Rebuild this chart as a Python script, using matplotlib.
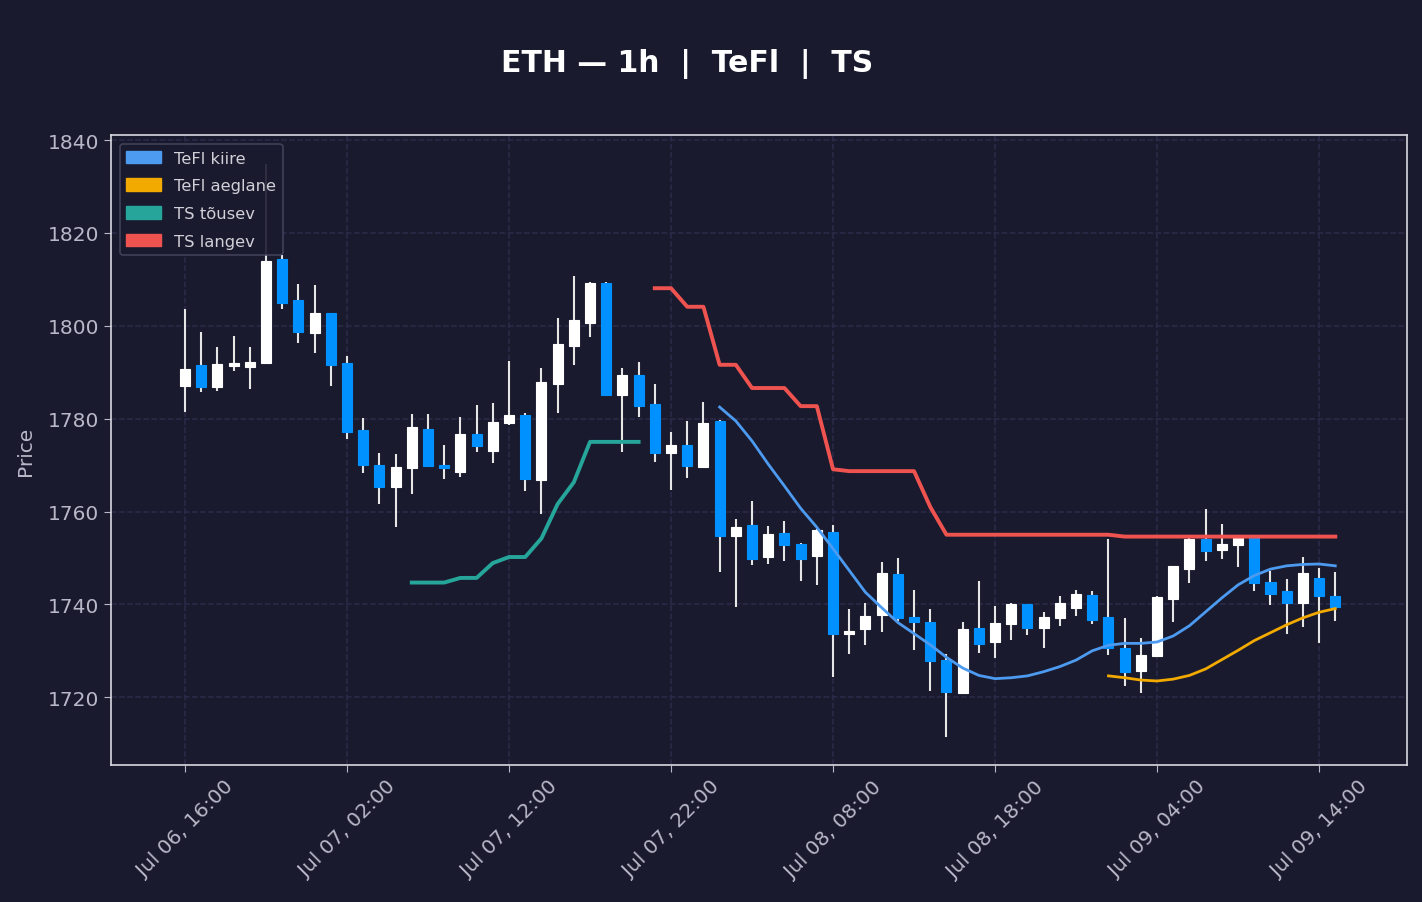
"""
Hourly ETH candles with TeFl moving averages and TS (trailing stop) lines.
Writes out.png.
"""

from datetime import datetime, timedelta

import matplotlib
matplotlib.use("Agg")
import matplotlib.dates as mdates
import matplotlib.pyplot as plt
import numpy as np
from matplotlib.patches import Patch

# ── Data ──────────────────────────────────────────────────────────────────────

START = datetime(2023, 7, 6, 16, 0)

opens = [1787.0, 1791.6, 1786.9, 1791.4, 1791.2, 1792.0, 1814.4, 1805.5, 1798.5, 1802.7,
         1792.0, 1777.5, 1770.1, 1765.2, 1769.3, 1777.8, 1770.1, 1768.6, 1776.8, 1773.1,
         1779.1, 1780.8, 1766.8, 1787.5, 1795.7, 1800.7, 1809.3, 1785.1, 1789.3, 1783.1,
         1772.5, 1774.4, 1769.6, 1779.4, 1754.8, 1757.0, 1750.3, 1755.3, 1752.9, 1750.4,
         1755.5, 1733.7, 1734.8, 1737.7, 1746.6, 1737.2, 1736.1, 1728.1, 1721.0, 1735.0,
         1731.8, 1735.7, 1740.0, 1735.0, 1737.0, 1739.3, 1742.1, 1737.2, 1730.7, 1725.7,
         1728.9, 1741.1, 1747.7, 1754.0, 1751.8, 1752.8, 1754.6, 1744.9, 1742.8, 1740.4,
         1745.6, 1741.7]
highs = [1803.6, 1798.6, 1795.4, 1797.8, 1795.4, 1834.8, 1815.2, 1809.0, 1808.8, 1802.8,
         1793.4, 1780.1, 1772.7, 1772.3, 1781.0, 1781.0, 1774.3, 1780.3, 1782.9, 1783.3,
         1792.4, 1781.2, 1790.9, 1801.7, 1810.8, 1809.4, 1809.4, 1790.9, 1792.1, 1787.4,
         1777.2, 1779.5, 1783.5, 1779.7, 1758.4, 1762.2, 1756.8, 1757.9, 1753.2, 1756.2,
         1757.1, 1739.0, 1740.4, 1749.2, 1749.9, 1743.1, 1739.0, 1729.3, 1736.3, 1745.0,
         1739.6, 1740.3, 1740.1, 1738.3, 1741.8, 1743.1, 1742.8, 1754.0, 1737.0, 1732.7,
         1741.7, 1748.3, 1754.2, 1760.5, 1757.3, 1754.5, 1755.0, 1747.1, 1745.4, 1750.1,
         1747.9, 1746.9]
lows = [1781.4, 1785.7, 1785.9, 1790.2, 1786.4, 1791.8, 1803.6, 1796.3, 1794.1, 1787.1,
        1775.6, 1768.4, 1761.7, 1756.6, 1763.7, 1769.6, 1767.0, 1767.5, 1772.9, 1770.4,
        1778.7, 1764.5, 1759.4, 1781.2, 1791.6, 1797.5, 1784.9, 1772.9, 1780.4, 1770.7,
        1764.7, 1767.2, 1769.3, 1747.0, 1739.5, 1748.5, 1748.7, 1749.3, 1745.1, 1744.2,
        1724.4, 1729.3, 1731.3, 1734.1, 1736.5, 1730.2, 1721.4, 1711.5, 1720.9, 1729.5,
        1728.5, 1732.4, 1733.4, 1730.6, 1735.4, 1737.5, 1735.7, 1729.1, 1722.4, 1721.0,
        1728.8, 1736.2, 1744.7, 1749.4, 1749.7, 1748.1, 1742.9, 1739.9, 1733.7, 1735.2,
        1731.6, 1736.4]
closes = [1790.7, 1786.9, 1791.7, 1792.0, 1792.3, 1813.9, 1805.0, 1798.6, 1802.7, 1791.6,
          1777.2, 1770.1, 1765.2, 1769.5, 1778.1, 1769.7, 1769.3, 1776.8, 1774.1, 1779.2,
          1780.8, 1767.1, 1788.0, 1796.0, 1801.2, 1809.3, 1785.1, 1789.5, 1782.8, 1772.5,
          1774.4, 1769.7, 1779.0, 1754.8, 1756.6, 1749.7, 1755.1, 1752.7, 1749.7, 1756.1,
          1733.7, 1734.3, 1737.4, 1746.7, 1737.0, 1736.1, 1727.9, 1721.2, 1734.6, 1731.4,
          1735.9, 1740.0, 1735.0, 1737.2, 1740.2, 1742.3, 1736.7, 1730.5, 1725.5, 1729.1,
          1741.5, 1748.2, 1754.0, 1751.6, 1753.0, 1754.2, 1744.7, 1742.3, 1740.4, 1746.7,
          1741.7, 1739.5]

# indicator series, each begins at the given candle index
tefl_fast_start = 33
tefl_fast = [1782.5, 1779.5, 1775.2, 1770.2, 1765.5, 1760.7, 1756.6, 1752.0, 1747.3, 1742.6,
             1739.3, 1736.1, 1733.7, 1731.3, 1728.6, 1726.3, 1724.7, 1724.0, 1724.2, 1724.6,
             1725.5, 1726.6, 1728.0, 1730.0, 1731.2, 1731.6, 1731.6, 1731.9, 1733.2, 1735.4,
             1738.4, 1741.4, 1744.2, 1746.2, 1747.6, 1748.3, 1748.6, 1748.7, 1748.3]

tefl_slow_start = 57
tefl_slow = [1724.6, 1724.2, 1723.7, 1723.5, 1723.9, 1724.7, 1726.1, 1728.1, 1730.1, 1732.2,
             1733.9, 1735.6, 1737.1, 1738.3, 1739.1]

ts_up_start = 14
ts_up = [1744.7, 1744.7, 1744.7, 1745.7, 1745.7, 1748.9, 1750.2, 1750.2, 1754.2, 1761.6,
         1766.3, 1775.0, 1775.0, 1775.0, 1775.0]

ts_down_start = 29
ts_down = [1808.1, 1808.1, 1804.1, 1804.1, 1791.6, 1791.6, 1786.6, 1786.6, 1786.6, 1782.7,
           1782.7, 1769.1, 1768.7, 1768.7, 1768.7, 1768.7, 1768.7, 1761.0, 1755.0, 1755.0,
           1755.0, 1755.0, 1755.0, 1755.0, 1755.0, 1755.0, 1755.0, 1755.0, 1755.0, 1754.6,
           1754.6, 1754.6, 1754.6, 1754.6, 1754.6, 1754.6, 1754.6, 1754.6, 1754.6, 1754.6,
           1754.6, 1754.6, 1754.6]

# ── Style ─────────────────────────────────────────────────────────────────────

BG = "#1a1a2e"
GRID = "#2c2c4a"
TEXT = "#b8b8c8"
UP = "#ffffff"
DOWN = "#0091ff"
WICK = "#e6e6e6"
C_FAST = "#4c9bf0"
C_SLOW = "#f2a900"
C_TS_UP = "#26a69a"
C_TS_DOWN = "#ef5350"


def hour_index(start, n):
    return [START + timedelta(hours=start + k) for k in range(n)]


def draw_candles(ax, times):
    x = mdates.date2num(times)
    o, h, l, c = map(np.array, (opens, highs, lows, closes))
    up = c >= o
    colors = np.where(up, UP, DOWN)

    ax.vlines(x, l, h, color=WICK, linewidth=1.5, zorder=2)
    bottom = np.minimum(o, c)
    height = np.maximum(np.abs(c - o), 0.4)
    ax.bar(x, height, width=0.62 / 24, bottom=bottom, color=colors,
           edgecolor=colors, linewidth=0.8, zorder=3)


def main():
    times = hour_index(0, len(opens))

    fig = plt.figure(figsize=(14.22, 9.03), dpi=100, facecolor=BG)
    ax = fig.add_axes([0.078, 0.1517, 0.9115, 0.6977])
    ax.set_facecolor(BG)

    draw_candles(ax, times)

    ax.plot(hour_index(tefl_fast_start, len(tefl_fast)), tefl_fast,
            color=C_FAST, linewidth=2.0, zorder=4)
    ax.plot(hour_index(tefl_slow_start, len(tefl_slow)), tefl_slow,
            color=C_SLOW, linewidth=2.0, zorder=4)
    ax.plot(hour_index(ts_up_start, len(ts_up)), ts_up,
            color=C_TS_UP, linewidth=2.8, zorder=4)
    ax.plot(hour_index(ts_down_start, len(ts_down)), ts_down,
            color=C_TS_DOWN, linewidth=2.8, zorder=4)

    # axes limits and ticks
    ax.set_xlim(mdates.date2num(START - timedelta(hours=4.57)),
                mdates.date2num(START + timedelta(hours=75.43)))
    ax.set_ylim(1705.4, 1841.1)
    ax.set_yticks(np.arange(1720, 1841, 20))
    ticks = [START + timedelta(hours=10 * k) for k in range(8)]
    ax.set_xticks(mdates.date2num(ticks))
    ax.xaxis.set_major_formatter(mdates.DateFormatter("%b %d, %H:%M"))
    plt.setp(ax.get_xticklabels(), rotation=45)

    ax.tick_params(colors=TEXT, labelsize=14.5, length=5)
    for spine in ax.spines.values():
        spine.set_color("#d8d8e0")
        spine.set_linewidth(1.2)
    ax.grid(True, color=GRID, linestyle="--", linewidth=1.1, zorder=0)
    ax.set_axisbelow(True)

    ax.set_ylabel("Price", color=TEXT, fontsize=14.5, labelpad=9)
    fig.suptitle("ETH — 1h  |  TeFl  |  TS", color="white", fontsize=21.5,
                 fontweight="bold", x=0.483, y=0.929, va="center")

    handles = [Patch(color=C_FAST, label="TeFl kiire"),
               Patch(color=C_SLOW, label="TeFl aeglane"),
               Patch(color=C_TS_UP, label="TS tõusev"),
               Patch(color=C_TS_DOWN, label="TS langev")]
    leg = ax.legend(handles=handles, loc="upper left", fontsize=11.8,
                    facecolor=BG, edgecolor="#44445e", framealpha=0.9,
                    labelcolor="#d0d0d8", borderaxespad=0.55,
                    labelspacing=0.78, handlelength=2.1, handleheight=0.8)
    leg.get_frame().set_linewidth(1.2)

    fig.savefig("out.png", dpi=100, facecolor=BG)
    plt.close(fig)


if __name__ == "__main__":
    main()
